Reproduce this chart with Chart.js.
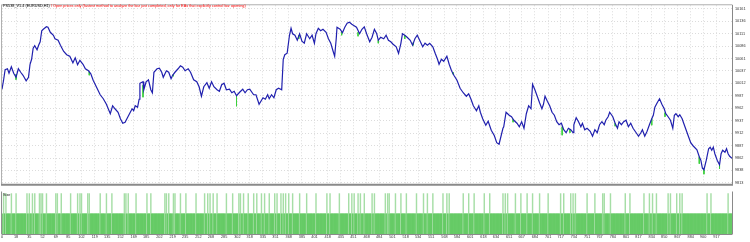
<!DOCTYPE html>
<html><head><meta charset="utf-8">
<script src="https://cdn.jsdelivr.net/npm/chart.js@4/dist/chart.umd.min.js"></script>
<style>
html,body{margin:0;padding:0;background:#fff;}
#wrap{position:relative;width:750px;height:242px;overflow:hidden;background:#fff;}
#c1{position:absolute;left:0;top:0;width:750px;height:190px;}
#c2{position:absolute;left:0;top:190px;width:750px;height:52px;}
</style></head><body>
<div id="wrap"><canvas id="c1" width="750" height="190"></canvas><canvas id="c2" width="750" height="52"></canvas></div>
<script>
const titleExpert = "PS538_V1.4 (EURUSD,H1)";
const titleMode = " / Open prices only (fastest method to analyze the bar just completed, only for EAs that explicitly control bar opening)";
const sizeLabel = "Size";

const xTicks = [0,18,35,52,69,85,102,119,135,152,169,185,202,219,235,252,268,285,302,318,335,351,368,385,401,418,435,451,468,484,501,518,534,551,568,584,601,618,634,651,667,684,701,717,734,751,767,784,801,817,834,850,867,884,900,917];
const yTicks = [10161,10136,10111,10086,10061,10037,10012,9987,9962,9937,9912,9887,9862,9838,9813];

const balanceTrade = [0,2,4,7,9,12,15,18,21,24,27,31,34,36,38,40,42,45,47,49,51,53,57,59,62,66,68,72,75,79,83,87,91,94,97,100,104,107,111,114,117,122,126,130,134,139,142,145,149,152,155,158,161,163,167,169,171,174,176,177,181,182,185,188,191,193,195,199,202,205,207,211,214,217,219,222,226,229,232,235,239,242,246,250,253,256,259,263,266,269,272,276,279,282,285,288,292,295,298,301,305,309,312,315,318,323,326,330,335,338,341,343,346,349,352,355,359,361,363,366,369,371,373,376,379,382,385,388,391,395,398,401,403,406,409,412,416,419,422,425,427,429,430,434,437,440,443,446,449,452,455,459,462,465,468,472,475,478,481,483,486,490,493,496,499,502,506,509,512,514,517,520,524,527,530,533,537,540,543,546,549,553,556,559,561,564,567,571,574,577,580,584,588,592,596,599,602,605,609,612,614,617,621,624,628,632,635,638,643,644,647,649,651,654,657,661,664,667,670,673,676,679,681,684,687,690,693,695,697,700,703,706,709,712,715,718,721,724,727,730,733,734,737,740,743,745,748,751,755,758,761,764,767,770,773,775,778,780,784,787,790,792,795,798,801,804,807,810,814,817,820,822,825,828,831,834,836,838,841,844,847,850,852,855,858,861,863,865,868,870,873,875,878,881,884,887,892,895,897,899,901,904,907,909,911,913,915,918,921,923,925,928,930,932,934,937];
const balanceValue = [10000,10018,10039,10041,10032,10045,10032,10024,10041,10034,10028,10017,10024,10050,10060,10082,10087,10079,10088,10095,10117,10120,10125,10124,10114,10108,10101,10098,10088,10076,10069,10066,10053,10063,10049,10058,10050,10041,10037,10031,10018,10002,9989,9981,9970,9951,9967,9961,9954,9941,9932,9934,9943,9949,9961,9957,9967,9964,9980,10012,10015,9999,10015,10019,9999,9993,10034,10041,10042,10034,10024,10037,10034,10021,10028,10034,10041,10047,10044,10037,10041,10034,10019,10015,10005,9986,10005,10013,10002,10015,10005,9999,9996,10009,10012,9999,10000,9993,9996,9987,9994,10000,9993,9999,10000,9989,9989,9970,9983,9980,9989,9981,9989,9983,9999,10002,9999,10060,10069,10072,10108,10122,10111,10108,10098,10111,10096,10092,10111,10101,10108,10092,10111,10122,10117,10120,10114,10101,10092,10076,10066,10101,10124,10120,10113,10124,10132,10134,10130,10127,10124,10111,10120,10125,10111,10095,10104,10120,10111,10098,10104,10101,10108,10098,10095,10090,10085,10072,10092,10111,10108,10104,10098,10088,10101,10108,10095,10085,10092,10088,10092,10085,10072,10060,10050,10060,10056,10066,10050,10037,10028,10018,10002,9993,9986,9991,9980,9967,9957,9967,9954,9941,9928,9936,9918,9907,9893,9890,9922,9925,9954,9951,9948,9945,9938,9932,9925,9935,9922,9951,9967,9961,10010,9999,9986,9973,9961,9970,9986,9976,9967,9954,9948,9935,9929,9932,9919,9913,9922,9919,9913,9929,9943,9935,9925,9932,9919,9922,9916,9906,9919,9913,9929,9935,9929,9938,9945,9954,9945,9932,9922,9935,9929,9935,9938,9925,9932,9922,9913,9906,9913,9919,9906,9916,9929,9941,9948,9964,9973,9981,9970,9961,9951,9945,9938,9922,9948,9951,9945,9949,9941,9932,9919,9906,9893,9887,9879,9865,9858,9842,9839,9858,9881,9884,9878,9884,9871,9858,9849,9871,9878,9874,9881,9871,9866,9862];

// equity drawdowns: [trade, from, to]
const equityDips = [[18,10030,10019],[112,10035,10028],[181,10008,9984],[220,10030,10026],[301,9987,9966],[381,10108,10101],[436,10115,10108],[457,10114,10106],[483,10098,10092],[517,10108,10101],[528,10094,10088],[579,10034,10030],[656,9940,9934],[719,9925,9908],[729,9920,9913],[787,9932,9926],[834,9941,9928],[851,9953,9945],[895,9865,9851],[901,9839,9830],[921,9849,9841]];

const tradeCount = 937;
const baseLot = 0.1;
const bigLot = 0.2;
const bigLotTrades = [2,5,12,18,32,35,39,42,48,50,52,57,69,71,76,88,97,100,102,110,112,126,134,141,157,159,162,172,186,191,209,211,214,220,222,229,236,249,260,264,267,271,276,288,296,304,306,310,316,323,327,333,337,343,350,353,358,361,364,368,373,382,391,403,417,421,433,445,449,452,457,460,465,475,478,492,495,497,505,512,519,532,541,546,553,566,571,574,592,599,606,619,626,643,646,649,659,666,674,681,690,701,717,721,730,733,736,751,761,771,773,781,800,806,824,831,835,840,855,858,866,870,873,905,910,932];

const FONT = 'Liberation Sans';
const fs = 3.8;

const balanceData = balanceTrade.map((t,i)=>({x:t,y:balanceValue[i]}));
const dipData = [];
equityDips.forEach(d=>{dipData.push({x:d[0],y:d[1]});dipData.push({x:d[0],y:d[2]});dipData.push({x:d[0],y:null});});
const sizeData = [];
const sizeColors = [];
for(let i=1;i<=tradeCount;i++){
  const big = bigLotTrades.includes(i);
  sizeData.push({x:i, y: big?bigLot:baseLot});
  sizeColors.push(big ? '#a6dea6' : '#66cb66');
}

const frame1 = {
  id:'frame1',
  beforeDraw(c){const x=c.ctx;x.save();x.fillStyle='#fff';x.fillRect(0,0,c.width,c.height);x.restore();},
  afterDraw(c){
    const x=c.ctx, a=c.chartArea;
    x.save();
    x.strokeStyle='#b0b0b0';x.lineWidth=1;
    x.beginPath();x.moveTo(a.left-0.5,a.top-0.5);x.lineTo(a.right,a.top-0.5);x.stroke();
    x.beginPath();x.moveTo(a.left-0.5,a.top-0.5);x.lineTo(a.left-0.5,a.bottom);x.stroke();
    x.strokeStyle='#888';
    x.beginPath();x.moveTo(a.right+0.5,a.top-0.5);x.lineTo(a.right+0.5,a.bottom);x.stroke();
    x.strokeStyle='#8a8a8a';x.lineWidth=2;
    x.beginPath();x.moveTo(a.left-1,a.bottom);x.lineTo(a.right+1,a.bottom);x.stroke();
    x.font = fs+'px "'+FONT+'"';
    x.textBaseline='middle';
    x.fillStyle='#000';
    x.fillText(titleExpert, 3, 5.5);
    const w = x.measureText(titleExpert).width;
    x.fillStyle='#ff0000';
    x.fillText(titleMode, 3+w, 5.5);
    x.restore();
  }
};
const frame2 = {
  id:'frame2',
  beforeDraw(c){const x=c.ctx;x.save();x.fillStyle='#fff';x.fillRect(0,0,c.width,c.height);x.restore();},
  afterDraw(c){
    const x=c.ctx, a=c.chartArea;
    x.save();
    x.strokeStyle='#8a8a8a';x.lineWidth=1;
    x.beginPath();x.moveTo(a.left-0.5,a.top-0.5);x.lineTo(a.left-0.5,a.bottom);x.stroke();
    x.beginPath();x.moveTo(a.right+0.5,a.top-0.5);x.lineTo(a.right+0.5,a.bottom);x.stroke();
    x.beginPath();x.moveTo(a.left-0.5,a.bottom+0.5);x.lineTo(a.right+0.5,a.bottom+0.5);x.stroke();
    x.font = fs+'px "'+FONT+'"';
    x.textBaseline='middle';
    x.fillStyle='#222';
    x.fillText(sizeLabel, 3, a.top+2.5);
    x.restore();
  }
};

new Chart(document.getElementById('c1'), {
  type:'line',
  data:{datasets:[
    {label:'Balance', data:balanceData, borderColor:'#2020ae', borderWidth:1.2, pointRadius:0, tension:0, fill:false},
    {label:'Equity', data:dipData, borderColor:'#3ad03a', borderWidth:1, pointRadius:0, spanGaps:false, fill:false}
  ]},
  options:{
    responsive:false, animation:false, events:[],
    layout:{padding:{left:2,top:2,right:0,bottom:1}},
    plugins:{legend:{display:false},tooltip:{enabled:false},title:{display:false}},
    scales:{
      x:{type:'linear',min:0,max:tradeCount,
        afterBuildTicks(s){s.ticks=xTicks.map(v=>({value:v}));},
        ticks:{display:false},
        grid:{color:'#dcdcdc',drawTicks:false,lineWidth:1},
        border:{display:false,dash:[1,2]},
        afterFit(s){s.height=0;}},
      y:{position:'right',min:9809,max:10168,
        afterBuildTicks(s){s.ticks=yTicks.map(v=>({value:v}));},
        ticks:{font:{size:fs,family:FONT},color:'#333',padding:3,callback:v=>String(v)},
        grid:{color:'#dcdcdc',drawTicks:false,lineWidth:1},
        border:{display:false,dash:[1,2]},
        afterFit(s){s.width=18;}}
    }
  },
  plugins:[frame1]
});

new Chart(document.getElementById('c2'), {
  type:'bar',
  data:{datasets:[{label:'Size',data:sizeData,backgroundColor:sizeColors,borderWidth:0,barPercentage:1,categoryPercentage:1}]},
  options:{
    responsive:false, animation:false, events:[],
    layout:{padding:{left:2,top:2,right:0,bottom:0}},
    plugins:{legend:{display:false},tooltip:{enabled:false}},
    scales:{
      x:{type:'linear',min:0,max:tradeCount,offset:false,
        afterBuildTicks(s){s.ticks=xTicks.map(v=>({value:v}));},
        ticks:{font:{size:fs,family:FONT},color:'#333',padding:1,maxRotation:0,autoSkip:false,callback:v=>String(v)},
        grid:{display:false,drawTicks:false,offset:false},
        border:{display:false},
        afterFit(s){s.height=8;}},
      y:{position:'right',min:0,max:0.208,
        ticks:{display:false},
        grid:{display:false,drawTicks:false},
        border:{display:false},
        afterFit(s){s.width=18;}}
    }
  },
  plugins:[frame2]
});
</script>
</body></html>
